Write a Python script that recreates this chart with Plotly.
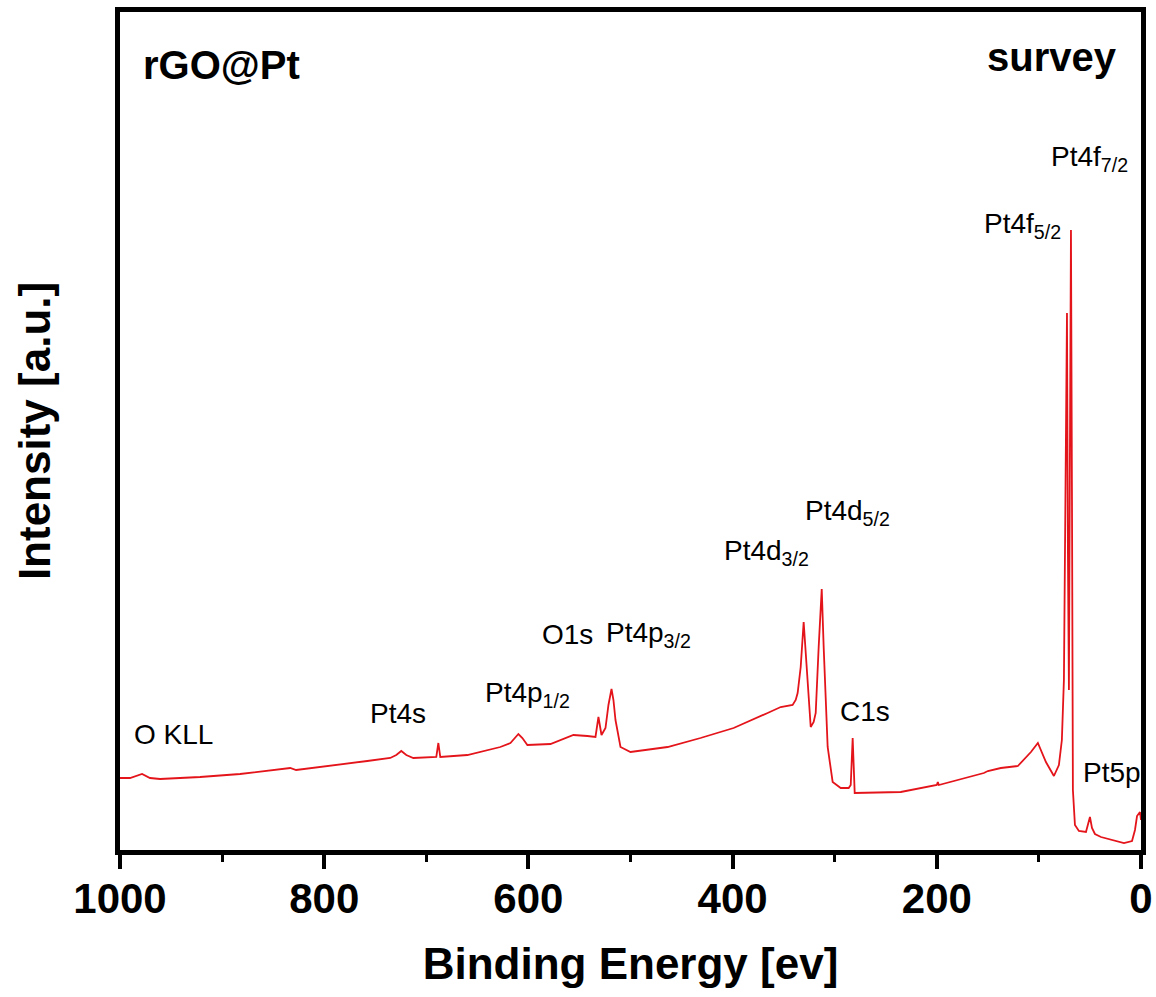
import plotly.graph_objects as go

# Binding energy (eV) and intensity (a.u.)
energy = [1000.0, 990.2, 978.4, 970.6, 960.8, 921.6, 882.4, 855.9, 833.3, 827.5,
          794.1, 757.8, 735.3, 729.4, 724.5, 719.6, 712.7, 696.1, 690.2, 688.2,
          686.3, 659.8, 627.5, 617.6, 609.8, 605.9, 601.0, 578.4, 555.9, 542.2,
          534.3, 531.4, 528.4, 524.5, 521.6, 518.6, 516.7, 514.7, 509.8, 500.0,
          463.7, 431.4, 399.0, 365.7, 352.9, 341.2, 338.2, 336.3, 333.3, 330.4,
          327.5, 325.5, 323.5, 320.6, 318.6, 315.7, 312.7, 310.8, 308.8, 306.9,
          302.0, 294.1, 286.3, 284.3, 282.4, 280.4, 235.3, 200.0, 199.0, 198.0,
          153.9, 150.0, 137.3, 120.6, 107.8, 101.0, 93.1, 85.3, 80.4, 77.5,
          75.5, 73.5, 72.5, 71.6, 70.6, 69.6, 68.6, 67.6, 66.7, 64.7,
          60.8, 53.9, 51.0, 50.0, 48.0, 45.1, 39.2, 24.5, 16.7, 8.8,
          5.9, 3.9, 2.0, 1.0, 0.0]
intensity = [72, 72, 76, 72, 71, 73, 76, 79, 82, 80,
             84, 89, 92, 95, 99, 95, 92, 93, 93, 107,
             93, 95, 103, 107, 116, 112, 105, 106, 115, 114,
             113, 133, 115, 122, 145, 161, 150, 130, 103, 98,
             103, 112, 122, 137, 143, 145, 150, 157, 183, 228,
             183, 145, 123, 128, 137, 203, 261, 203, 140, 103,
             68, 62, 62, 65, 112, 57, 58, 65, 68, 65,
             77, 79, 82, 84, 98, 107, 88, 74, 85, 110,
             170, 450, 537, 300, 160, 400, 620, 350, 60, 25,
             19, 18, 28, 33, 22, 16, 13, 9, 7, 9,
             20, 34, 36, 38, 30]

# Peak labels: (text, energy position of left edge, intensity position)
label_text = ["O KLL", "Pt4s", "Pt4p<sub>1/2</sub>", "O1s", "Pt4p<sub>3/2</sub>",
              "Pt4d<sub>3/2</sub>", "Pt4d<sub>5/2</sub>", "C1s",
              "Pt4f<sub>5/2</sub>", "Pt4f<sub>7/2</sub>", "Pt5p"]
label_x = [988.2, 756.9, 644.1, 588.2, 525.5, 410.8, 331.4, 297.1, 155.9, 90.2, 58.8]
label_y = [116, 137, 156, 216, 216, 298, 338, 139, 625, 692, 78]

x_ticks = [1000, 800, 600, 400, 200, 0]

FONT = "Arial, Liberation Sans, sans-serif"

fig = go.Figure()
fig.add_trace(go.Scatter(x=energy, y=intensity, mode="lines",
                         line=dict(color="#e4141b", width=1.8),
                         showlegend=False, hoverinfo="skip"))

for t, xv, yv in zip(label_text, label_x, label_y):
    fig.add_annotation(x=xv, y=yv, xref="x", yref="y", text=t, showarrow=False,
                       xanchor="left", yanchor="middle",
                       font=dict(family=FONT, size=28, color="black"))

# pixel positions converted to paper coordinates (plot area 120..1141 x 12..850)
def px_to_paper(px, py):
    return (px - 120) / (1141 - 120), (850 - py) / (850 - 12)

ax, ay = px_to_paper(141, 65)
fig.add_annotation(x=ax, y=ay, xref="paper", yref="paper", text="rGO@Pt",
                   showarrow=False, xanchor="left", yanchor="middle",
                   font=dict(family=FONT, size=40, color="black", weight="bold"))
ax, ay = px_to_paper(1119, 57)
fig.add_annotation(x=ax, y=ay, xref="paper", yref="paper", text="survey",
                   showarrow=False, xanchor="right", yanchor="middle",
                   font=dict(family=FONT, size=40, color="black", weight="bold"))

fig.update_layout(
    width=1156, height=997,
    margin=dict(l=120, r=15, t=12, b=147, autoexpand=False),
    plot_bgcolor="white", paper_bgcolor="white",
    font=dict(family=FONT, color="black"),
)
fig.update_xaxes(
    range=[1000, 0], tickvals=x_ticks, ticktext=[str(v) for v in x_ticks],
    ticks="outside", ticklen=14, tickwidth=4, tickcolor="black",
    ticklabelstandoff=-6,
    showline=True, linewidth=5, linecolor="black", mirror=True,
    showgrid=False, zeroline=False,
    minor=dict(dtick=100, ticks="outside", ticklen=7, tickwidth=3, tickcolor="black", showgrid=False),
    tickfont=dict(family=FONT, size=42, color="black", weight="bold"),
    title=dict(text="Binding Energy [ev]", standoff=28,
               font=dict(family=FONT, size=44, color="black", weight="bold")),
)
fig.update_yaxes(
    range=[0, 838], showticklabels=False, ticks="",
    showline=True, linewidth=5, linecolor="black", mirror=True,
    showgrid=False, zeroline=False,
    title=dict(text="Intensity [a.u.]", standoff=52,
               font=dict(family=FONT, size=44, color="black", weight="bold")),
)

fig.write_html("out.html")
